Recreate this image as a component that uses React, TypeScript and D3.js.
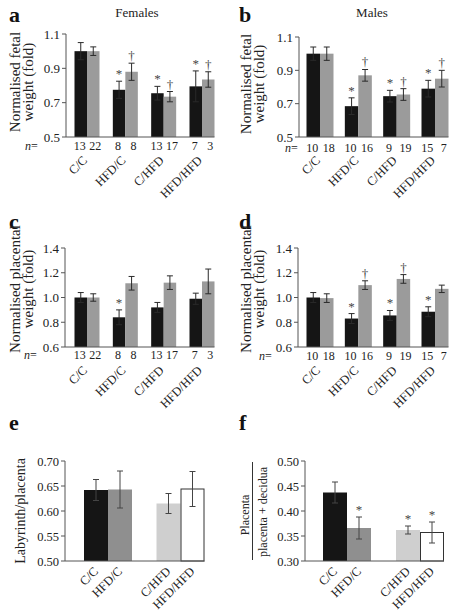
import React from "react";
import * as d3 from "d3";

// ---------- data ----------
const groups = ["C/C", "HFD/C", "C/HFD", "HFD/HFD"];

// a: fetal weight, females
const aBlack = [1.0, 0.775, 0.755, 0.795];
const aBlackErr = [0.05, 0.05, 0.04, 0.09];
const aGray = [1.0, 0.88, 0.735, 0.835];
const aGrayErr = [0.025, 0.05, 0.03, 0.045];
const aNBlack = [13, 8, 13, 7];
const aNGray = [22, 8, 17, 3];
const aMarkBlack = ["", "*", "*", "*"];
const aMarkGray = ["", "†", "†", "†"];

// b: fetal weight, males
const bBlack = [1.0, 0.685, 0.745, 0.79];
const bBlackErr = [0.04, 0.05, 0.035, 0.05];
const bGray = [1.0, 0.87, 0.755, 0.85];
const bGrayErr = [0.04, 0.035, 0.035, 0.05];
const bNBlack = [10, 10, 9, 15];
const bNGray = [18, 16, 19, 7];
const bMarkBlack = ["", "*", "*", "*"];
const bMarkGray = ["", "†", "†", "†"];

// c: placental weight, females
const cBlack = [1.0, 0.84, 0.92, 0.99];
const cBlackErr = [0.04, 0.06, 0.04, 0.045];
const cGray = [1.0, 1.115, 1.12, 1.13];
const cGrayErr = [0.03, 0.055, 0.055, 0.1];
const cNBlack = [13, 8, 13, 7];
const cNGray = [22, 8, 17, 3];
const cMarkBlack = ["", "*", "", ""];
const cMarkGray = ["", "", "", ""];

// d: placental weight, males
const dBlack = [1.0, 0.83, 0.855, 0.885];
const dBlackErr = [0.04, 0.04, 0.04, 0.04];
const dGray = [0.995, 1.1, 1.15, 1.07];
const dGrayErr = [0.035, 0.035, 0.035, 0.03];
const dNBlack = [10, 10, 9, 15];
const dNGray = [18, 16, 19, 7];
const dMarkBlack = ["", "*", "*", "*"];
const dMarkGray = ["", "†", "†", ""];

// e: labyrinth / placenta
const eValues = [0.642, 0.643, 0.615, 0.644];
const eErr = [0.021, 0.037, 0.02, 0.035];
const eMarks = ["", "", "", ""];

// f: placenta / (placenta + decidua)
const fValues = [0.437, 0.366, 0.362, 0.357];
const fErr = [0.021, 0.022, 0.008, 0.021];
const fMarks = ["", "*", "*", "*"];

const ticksFetal = [0.5, 0.7, 0.9, 1.1];
const ticksPlacental = [0.6, 0.8, 1.0, 1.2, 1.4];
const ticksRatioE = [0.5, 0.55, 0.6, 0.65, 0.7];
const ticksRatioF = [0.3, 0.35, 0.4, 0.45, 0.5];

const FONT = "Liberation Serif";
const BLACK = "#151515";
const GRAY = "#9b9b9b";
const ERR = "#2a2a2a";
const AXIS = "#555";
const MARK = "#444";

type PairProps = {
  axisX: number;
  yTop: number;
  yBot: number;
  domain: [number, number];
  ticks: number[];
  fmt: (v: number) => string;
  c0: number;
  c3: number;
  barW: number;
  black: number[];
  blackErr: number[];
  gray: number[];
  grayErr: number[];
  nBlack: number[];
  nGray: number[];
  markBlack: string[];
  markGray: string[];
  nX: number;
  nY: number;
  labelY: number;
};

function Mark({ x, y, t }: { x: number; y: number; t: string }) {
  return (
    <text transform={`translate(${x},${y}) rotate(0.01)`} textAnchor="middle" fontSize={13} fill={MARK} opacity={0.99}>
      {t}
    </text>
  );
}

function PairPanel(p: PairProps) {
  const y = d3.scaleLinear().domain(p.domain).range([p.yBot, p.yTop]);
  const x = d3.scalePoint<string>().domain(groups).range([p.c0, p.c3]);
  const right = p.c3 + p.barW;
  const errBar = (cx: number, v: number, e: number, key: string) => (
    <g key={key} stroke={ERR} strokeWidth={1}>
      <line x1={cx} x2={cx} y1={y(v + e)} y2={y(v - e)} />
      <line x1={cx - 3} x2={cx + 3} y1={y(v + e)} y2={y(v + e)} />
      <line x1={cx - 3} x2={cx + 3} y1={y(v - e)} y2={y(v - e)} />
    </g>
  );
  return (
    <g fontFamily={FONT}>
      {groups.map((g, i) => {
        const cx = x(g) as number;
        const bx = cx - p.barW;
        const gx = cx;
        return (
          <g key={g}>
            <rect x={bx} y={y(p.black[i])} width={p.barW} height={p.yBot - y(p.black[i])} fill={BLACK} />
            <rect x={gx} y={y(p.gray[i])} width={p.barW} height={p.yBot - y(p.gray[i])} fill={GRAY} />
            {errBar(bx + p.barW / 2, p.black[i], p.blackErr[i], "eb")}
            {errBar(gx + p.barW / 2, p.gray[i], p.grayErr[i], "eg")}
            {p.markBlack[i] && <Mark x={bx + p.barW / 2} y={y(p.black[i] + p.blackErr[i]) - 3} t={p.markBlack[i]} />}
            {p.markGray[i] && <Mark x={gx + p.barW / 2} y={y(p.gray[i] + p.grayErr[i]) - 3} t={p.markGray[i]} />}
            <text x={bx + p.barW / 2 - 1} y={p.nY} textAnchor="middle" fontSize={12} fill="#222">
              {p.nBlack[i]}
            </text>
            <text x={gx + p.barW / 2 + 2} y={p.nY} textAnchor="middle" fontSize={12} fill="#222">
              {p.nGray[i]}
            </text>
            <text
              transform={`translate(${cx + 1},${p.labelY}) rotate(-45)`}
              textAnchor="end"
              fontSize={12.5}
              fill="#222"
            >
              {g}
            </text>
          </g>
        );
      })}
      <text x={p.nX} y={p.nY} fontSize={12} fill="#222">
        <tspan fontStyle="italic">n</tspan>=
      </text>
      {/* axes */}
      <line x1={p.axisX} x2={p.axisX} y1={p.yTop} y2={p.yBot} stroke={AXIS} />
      <line x1={p.axisX} x2={right} y1={p.yBot} y2={p.yBot} stroke={AXIS} />
      {p.ticks.map((t) => (
        <g key={t}>
          <line x1={p.axisX - 4} x2={p.axisX} y1={y(t)} y2={y(t)} stroke={AXIS} />
          <text x={p.axisX - 6} y={y(t) + 4.5} textAnchor="end" fontSize={13} fill="#222">
            {p.fmt(t)}
          </text>
        </g>
      ))}
    </g>
  );
}

type SingleProps = {
  axisX: number;
  yTop: number;
  yBot: number;
  domain: [number, number];
  ticks: number[];
  p0: number;
  p1: number;
  barW: number;
  values: number[];
  err: number[];
  marks: string[];
  labelY: number;
};

const singleFills = [BLACK, "#8f8f8f", "#cfcfcf", "#ffffff"];

function SinglePanel(p: SingleProps) {
  const y = d3.scaleLinear().domain(p.domain).range([p.yBot, p.yTop]);
  const pairs = ["C", "HFD"];
  const px = d3.scalePoint<string>().domain(pairs).range([p.p0, p.p1]);
  const fmt = d3.format(".2f");
  const right = p.p1 + p.barW;
  return (
    <g fontFamily={FONT}>
      {groups.map((g, i) => {
        const center = px(pairs[Math.floor(i / 2)]) as number;
        const bx = i % 2 === 0 ? center - p.barW : center;
        const cx = bx + p.barW / 2;
        const v = p.values[i];
        const e = p.err[i];
        return (
          <g key={g}>
            <rect
              x={bx + (i === 3 ? 0.5 : 0)}
              y={y(v)}
              width={p.barW - (i === 3 ? 1 : 0)}
              height={p.yBot - y(v)}
              fill={singleFills[i]}
              stroke={i === 3 ? "#333" : "none"}
              strokeWidth={1}
            />
            <g stroke="#444" strokeWidth={1}>
              <line x1={cx} x2={cx} y1={y(v + e)} y2={y(v - e)} />
              <line x1={cx - 3} x2={cx + 3} y1={y(v + e)} y2={y(v + e)} />
              <line x1={cx - 3} x2={cx + 3} y1={y(v - e)} y2={y(v - e)} />
            </g>
            {p.marks[i] && <Mark x={cx} y={y(v + e) - 3} t={p.marks[i]} />}
            <text
              transform={`translate(${cx + 3},${p.labelY}) rotate(-45)`}
              textAnchor="end"
              fontSize={12.5}
              fill="#222"
            >
              {g}
            </text>
          </g>
        );
      })}
      <line x1={p.axisX} x2={p.axisX} y1={p.yTop} y2={p.yBot} stroke={AXIS} />
      <line x1={p.axisX} x2={right} y1={p.yBot} y2={p.yBot} stroke={AXIS} />
      {p.ticks.map((t) => (
        <g key={t}>
          <line x1={p.axisX - 4} x2={p.axisX} y1={y(t)} y2={y(t)} stroke={AXIS} />
          <text x={p.axisX - 6} y={y(t) + 4.5} textAnchor="end" fontSize={12.5} fill="#222">
            {fmt(t)}
          </text>
        </g>
      ))}
    </g>
  );
}

function Letter({ x, y, t }: { x: number; y: number; t: string }) {
  return (
    <text x={x} y={y} fontFamily={FONT} fontWeight="bold" fontSize={22} fill="#111">
      {t}
    </text>
  );
}

function YLabel2({ x1, x2, cy, l1, l2, size }: { x1: number; x2: number; cy: number; l1: string; l2: string; size: number }) {
  return (
    <g fontFamily={FONT} fontSize={size} fill="#222" textAnchor="middle">
      <text transform={`translate(${x1},${cy}) rotate(-90)`}>{l1}</text>
      <text transform={`translate(${x2},${cy}) rotate(-90)`}>{l2}</text>
    </g>
  );
}

export default function App() {
  const f1 = d3.format(".1f");
  return (
    <svg width={456} height={615} style={{ position: "absolute", left: 0, top: 0, background: "#fff" }}>
      <rect width={456} height={615} fill="#fff" />
      {/* a */}
      <Letter x={9} y={22} t="a" />
      <text x={137} y={17} textAnchor="middle" fontFamily={FONT} fontSize={13} fill="#222">Females</text>
      <YLabel2 x1={20} x2={33} cy={82} l1="Normalised fetal" l2="weight (fold)" size={15} />
      <PairPanel
        axisX={66} yTop={34} yBot={137} domain={[0.5, 1.1]} ticks={ticksFetal} fmt={f1}
        c0={87} c3={202} barW={12.5}
        black={aBlack} blackErr={aBlackErr} gray={aGray} grayErr={aGrayErr}
        nBlack={aNBlack} nGray={aNGray} markBlack={aMarkBlack} markGray={aMarkGray}
        nX={25} nY={150} labelY={161}
      />
      {/* b */}
      <Letter x={239} y={22} t="b" />
      <text x={372} y={17} textAnchor="middle" fontFamily={FONT} fontSize={13} fill="#222">Males</text>
      <YLabel2 x1={251} x2={264} cy={84} l1="Normalised fetal" l2="weight (fold)" size={15} />
      <PairPanel
        axisX={299} yTop={37} yBot={137} domain={[0.5, 1.1]} ticks={ticksFetal} fmt={f1}
        c0={320} c3={435} barW={13.5}
        black={bBlack} blackErr={bBlackErr} gray={bGray} grayErr={bGrayErr}
        nBlack={bNBlack} nGray={bNGray} markBlack={bMarkBlack} markGray={bMarkGray}
        nX={285} nY={152} labelY={161}
      />
      {/* c */}
      <Letter x={9} y={229} t="c" />
      <YLabel2 x1={20} x2={33} cy={289} l1="Normalised placental" l2="weight (fold)" size={15} />
      <PairPanel
        axisX={65} yTop={248} yBot={347} domain={[0.6, 1.4]} ticks={ticksPlacental} fmt={f1}
        c0={87} c3={202} barW={12.5}
        black={cBlack} blackErr={cBlackErr} gray={cGray} grayErr={cGrayErr}
        nBlack={cNBlack} nGray={cNGray} markBlack={cMarkBlack} markGray={cMarkGray}
        nX={24} nY={359} labelY={371}
      />
      {/* d */}
      <Letter x={239} y={229} t="d" />
      <YLabel2 x1={251} x2={264} cy={289} l1="Normalised placental" l2="weight (fold)" size={15} />
      <PairPanel
        axisX={298} yTop={248} yBot={347} domain={[0.6, 1.4]} ticks={ticksPlacental} fmt={f1}
        c0={320} c3={435} barW={13.5}
        black={dBlack} blackErr={dBlackErr} gray={dGray} grayErr={dGrayErr}
        nBlack={dNBlack} nGray={dNGray} markBlack={dMarkBlack} markGray={dMarkGray}
        nX={259} nY={360} labelY={371}
      />
      {/* e */}
      <Letter x={9} y={430} t="e" />
      <text transform="translate(25,511) rotate(-90)" textAnchor="middle" fontFamily={FONT} fontSize={14} fill="#222">
        Labyrinth/placenta
      </text>
      <SinglePanel
        axisX={65} yTop={461} yBot={561} domain={[0.5, 0.7]} ticks={ticksRatioE}
        p0={108} p1={180.5} barW={24}
        values={eValues} err={eErr} marks={eMarks} labelY={572}
      />
      {/* f */}
      <Letter x={239} y={430} t="f" />
      <g fontFamily={FONT} fontSize={12} fill="#222" textAnchor="middle">
        <text transform="translate(249,515) rotate(-90)">Placenta</text>
        <line x1={252.5} x2={252.5} y1={462} y2={560} stroke="#333" />
        <text transform="translate(267,512) rotate(-90)">placenta + decidua</text>
      </g>
      <SinglePanel
        axisX={305} yTop={461} yBot={561} domain={[0.3, 0.5]} ticks={ticksRatioF}
        p0={347} p1={420} barW={24}
        values={fValues} err={fErr} marks={fMarks} labelY={572}
      />
    </svg>
  );
}
